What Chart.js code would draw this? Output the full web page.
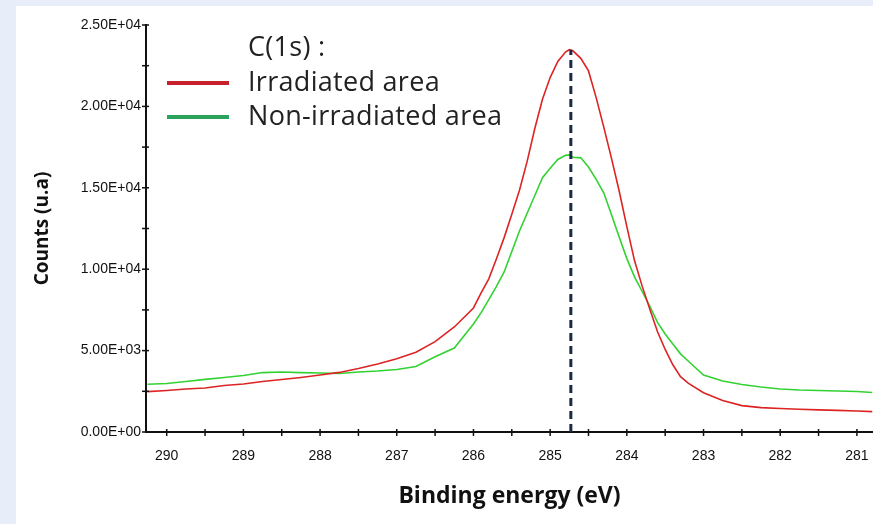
<!DOCTYPE html>
<html>
<head>
<meta charset="utf-8">
<script src="https://cdn.jsdelivr.net/npm/chart.js@4.4.1/dist/chart.umd.min.js"></script>
<style>
  html, body { margin: 0; padding: 0; background: #e7eef9; }
  #wrap { position: absolute; left: 16px; top: 6px; width: 857px; height: 518px; background: #fff; }
</style>
</head>
<body>
<div id="wrap"><canvas id="xps" width="857" height="518"></canvas></div>
<script>
const energy = [290.25, 290.0, 289.75, 289.5, 289.25, 289.0, 288.75, 288.5, 288.25, 288.0,
  287.75, 287.5, 287.25, 287.0, 286.75, 286.5, 286.25, 286.0, 285.9, 285.8,
  285.7, 285.6, 285.5, 285.4, 285.3, 285.2, 285.1, 285.0, 284.9, 284.8,
  284.75, 284.7, 284.6, 284.5, 284.4, 284.3, 284.2, 284.1, 284.0, 283.9,
  283.8, 283.7, 283.6, 283.5, 283.4, 283.3, 283.2, 283.0, 282.75, 282.5,
  282.25, 282.0, 281.75, 281.5, 281.25, 281.0, 280.8];

const irradiated = [2480, 2550, 2640, 2700, 2860, 2950, 3100, 3220, 3350, 3500,
  3660, 3900, 4180, 4500, 4900, 5550, 6450, 7620, 8550, 9410,
  10640, 11940, 13370, 14850, 16620, 18640, 20440, 21770, 22760, 23340,
  23480, 23400, 22950, 22180, 20540, 18710, 16810, 14800, 12620, 10530,
  8960, 7540, 6160, 5070, 4130, 3400, 3000, 2410, 1940, 1620,
  1500, 1440, 1400, 1360, 1330, 1290, 1250];

const nonIrradiated = [2930, 2980, 3100, 3230, 3350, 3470, 3650, 3690, 3650, 3620,
  3590, 3690, 3750, 3840, 4020, 4620, 5160, 6630, 7330, 8130,
  8950, 9830, 11090, 12350, 13440, 14530, 15620, 16200, 16740, 17000,
  17020, 16880, 16840, 16280, 15520, 14680, 13340, 11980, 10650, 9530,
  8630, 7720, 6730, 6020, 5410, 4800, 4360, 3500, 3130, 2920,
  2760, 2640, 2580, 2550, 2520, 2490, 2430];

const seriesNames = ['Irradiated area', 'Non-irradiated area'];
const legendTitle = 'C(1s) :';
const peakEnergy = 284.73;
const xRange = [280.79, 290.27];
const yRange = [0, 25000];

const tickFont = { family: "'Liberation Sans', Arial, sans-serif", size: 14 };

function sciLabel(v) {
  const [m, e] = v.toExponential(2).toUpperCase().split('E');
  const sign = e[0] === '-' ? '-' : '+';
  const digits = e.replace(/[+-]/, '').padStart(2, '0');
  return m + 'E' + sign + digits;
}

// tick marks crossing the axis lines
const crossTicks = {
  id: 'crossTicks',
  afterDraw(chart) {
    const { ctx } = chart;
    const { x, y } = chart.scales;
    ctx.save();
    ctx.strokeStyle = '#111';
    ctx.lineWidth = 1.5;
    x.ticks.forEach(t => {
      const px = x.getPixelForValue(t.value);
      ctx.beginPath(); ctx.moveTo(px, x.top - 3); ctx.lineTo(px, x.top + 4); ctx.stroke();
    });
    y.ticks.forEach(t => {
      const py = y.getPixelForValue(t.value);
      ctx.beginPath(); ctx.moveTo(y.right - 4, py); ctx.lineTo(y.right + 3, py); ctx.stroke();
    });
    ctx.restore();
  }
};

// legend in the top left corner of the plot
const cornerLegend = {
  id: 'cornerLegend',
  afterDraw(chart) {
    const { ctx, chartArea } = chart;
    const left = chartArea.left, top = chartArea.top;
    ctx.save();
    ctx.font = "27px 'Open Sans', sans-serif";
    ctx.letterSpacing = '0.3px';
    ctx.fillStyle = '#222';
    ctx.textBaseline = 'middle';
    ctx.fillText(legendTitle, left + 102, top + 23);
    chart.data.datasets.filter(d => d.inLegend).forEach((d, i) => {
      const yy = top + 58 + i * 34;
      ctx.strokeStyle = d.legendColor;
      ctx.lineWidth = 4;
      ctx.beginPath(); ctx.moveTo(left + 21, yy); ctx.lineTo(left + 83, yy); ctx.stroke();
      ctx.fillText(d.label, left + 102, yy);
    });
    ctx.restore();
  }
};

const toPoints = vals => energy.map((e, i) => ({ x: e, y: vals[i] }));

new Chart(document.getElementById('xps'), {
  type: 'line',
  data: {
    datasets: [
      {
        label: 'peak',
        data: [{ x: peakEnergy, y: 0 }, { x: peakEnergy, y: Math.max(...irradiated) }],
        borderColor: '#1b2a44',
        borderWidth: 3,
        borderDash: [8, 5],
        pointRadius: 0,
        order: 0
      },
      {
        label: seriesNames[0],
        data: toPoints(irradiated),
        borderColor: '#dc2424',
        legendColor: '#c8202c',
        inLegend: true,
        borderWidth: 1.6,
        pointRadius: 0,
        order: 1
      },
      {
        label: seriesNames[1],
        data: toPoints(nonIrradiated),
        borderColor: '#33d233',
        legendColor: '#2aa35c',
        inLegend: true,
        borderWidth: 1.6,
        pointRadius: 0,
        order: 2
      }
    ]
  },
  options: {
    responsive: false,
    devicePixelRatio: 1,
    animation: false,
    layout: { padding: { top: 19, right: 0, left: 0, bottom: 0 } },
    plugins: { legend: { display: false }, tooltip: { enabled: false } },
    scales: {
      x: {
        type: 'linear',
        reverse: true,
        min: xRange[0],
        max: xRange[1],
        afterBuildTicks(s) {
          s.ticks = s.ticks.filter(t => Math.abs(t.value * 2 - Math.round(t.value * 2)) < 1e-6);
        },
        afterFit(s) { s.height = 92; s.paddingLeft = 0; s.paddingRight = 0; },
        grid: { display: false, drawTicks: false },
        border: { color: '#111', width: 2 },
        ticks: {
          stepSize: 0.5,
          includeBounds: false,
          autoSkip: false,
          maxRotation: 0,
          padding: 16,
          color: '#111',
          font: tickFont,
          callback: v => Math.abs(v - Math.round(v)) < 1e-6 ? String(Math.round(v)) : ''
        },
        title: {
          display: true,
          text: 'Binding energy (eV)',
          color: '#111',
          font: { family: "'Open Sans', sans-serif", size: 23, weight: 'bold' },
          padding: 14
        }
      },
      y: {
        min: yRange[0],
        max: yRange[1],
        afterFit(s) { s.width = 130; },
        grid: { display: false, drawTicks: false },
        border: { color: '#111', width: 2 },
        ticks: {
          stepSize: 2500,
          autoSkip: false,
          padding: 5,
          color: '#111',
          font: tickFont,
          callback: v => v % 5000 === 0 ? sciLabel(v) : ''
        },
        title: {
          display: true,
          text: 'Counts (u.a)',
          color: '#111',
          font: { family: "'Open Sans', sans-serif", size: 19, weight: 'bold' },
          padding: 15
        }
      }
    }
  },
  plugins: [crossTicks, cornerLegend]
});
</script>
</body>
</html>
